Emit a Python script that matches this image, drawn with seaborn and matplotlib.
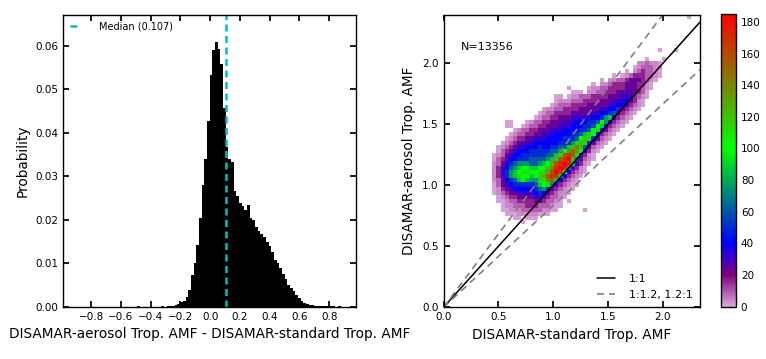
import numpy as np
import pandas as pd
import matplotlib
matplotlib.use("Agg")
import matplotlib.pyplot as plt
import seaborn as sns
from matplotlib.colors import LinearSegmentedColormap
from matplotlib.ticker import FormatStrFormatter

# ---------------- data: left histogram ----------------
hist_first_edge = -0.508
hist_bin_width = 0.018
hist_probs = [
    0.0, 0.0001, 0.0, 0.0, 0.0, 0.0, 0.0, 0.0, 0.0, 0.0,
    0.0001, 0.0, 0.0001, 0.0002, 0.0002, 0.0005, 0.0007, 0.0011, 0.0013, 0.0023,
    0.0039, 0.0073, 0.0100, 0.0142, 0.0203, 0.0279, 0.0340, 0.0428, 0.0533, 0.0590,
    0.0610, 0.0592, 0.0558, 0.0458, 0.0368, 0.0340, 0.0334, 0.0266, 0.0255, 0.0238,
    0.0232, 0.0222, 0.0233, 0.0205, 0.0199, 0.0184, 0.0175, 0.0168, 0.0160, 0.0150,
    0.0140, 0.0125, 0.0108, 0.0100, 0.0090, 0.0075, 0.0064, 0.0049, 0.0044, 0.0036,
    0.0028, 0.0020, 0.0012, 0.0009, 0.0006, 0.0004, 0.0003, 0.0002, 0.0002, 0.0002,
    0.0001, 0.0002, 0.0002, 0.0001, 0.0001, 0.0, 0.0001,
]
median_value = 0.107

# ---------------- data: right 2-D histogram ----------------
n_points = 13356
heat_x_range = (0.445, 2.33)
heat_y_range = (0.68, 2.40)
heat_nbins = 50
# level code -> count per cell
level_counts = {'.': 0, '1': 1, '2': 4, '3': 9, '4': 16, '5': 24, '6': 32, '7': 40,
                '8': 50, '9': 62, 'a': 75, 'b': 88, 'c': 100, 'd': 112, 'e': 125,
                'f': 140, 'g': 155, 'h': 170, 'i': 185}
# row index from top (0 = highest y) -> (first column, codes)
heat_rows = {
    0: (47, "1"),
    8: (40, "1...1"),
    10: (37, "1...1"),
    11: (35, "223221"),
    12: (34, "1233322"),
    13: (32, "1.2343321"),
    14: (29, "1.1234443321"),
    15: (26, "1.223345554321"),
    16: (24, "1.2234445554421"),
    17: (18, "1....1223344445554321"),
    18: (19, "111.223344455555431"),
    19: (15, "11.12233344445556664321"),
    20: (15, "1222333444455566675421"),
    21: (14, "12333444455555667754321"),
    22: (12, "122334444555556677854321"),
    23: (11, "123344445555566778954321"),
    24: (10, "12334455566666778ab64321"),
    25: (3, "11...123344555666777889ca64321"),
    26: (3, "11..123344555666777889cb64321"),
    27: (5, "1233445556667777889cd85321"),
    28: (4, "123344556667777889bdc74321"),
    29: (3, "123445566677778889ced85321"),
    30: (2, "12345566777777888aded85321"),
    31: (1, "12345667778778899befe95321"),
    32: (1, "134567778888899acfgfc7421"),
    33: (0, "123567788888899bdghgd8421"),
    34: (0, "1345778889999abdghie95321"),
    35: (0, "235689aaa99abceghihb6421"),
    36: (0, "24679abccbbccdfhiha6421"),
    37: (0, "2468abcddccddegihc74321"),
    38: (0, "2468abdccbcdeghhb74321"),
    39: (0, "235789bcbaacdfgb74321"),
    40: (0, "13567888889bcda643211"),
    41: (0, "124567777789a8543211"),
    42: (0, "1234556666787543221"),
    43: (1, "12344555566543321"),
    44: (1, "1123344445543321.1"),
    45: (2, "122333444333211"),
    46: (2, "11222333332211......1"),
    47: (3, "11122222111"),
    48: (5, "11.111"),
    49: (7, "1"),
}
cbar_ticks = [0, 20, 40, 60, 80, 100, 120, 140, 160, 180]
cmap_values = [0, 20, 40, 100, 185]
cmap_colors = ["#dba6db", "#800080", "#0000ff", "#00ff00", "#ff0000"]

# ---------------- build tables ----------------
hist_edges = hist_first_edge + hist_bin_width * np.arange(len(hist_probs) + 1)
hist_centers = 0.5 * (hist_edges[:-1] + hist_edges[1:])
df_hist = pd.DataFrame({"diff": hist_centers, "prob": hist_probs})

xedges = np.linspace(heat_x_range[0], heat_x_range[1], heat_nbins + 1)
yedges = np.linspace(heat_y_range[0], heat_y_range[1], heat_nbins + 1)
xc = 0.5 * (xedges[:-1] + xedges[1:])
yc = 0.5 * (yedges[:-1] + yedges[1:])
recs = []
for r, (c0, codes) in heat_rows.items():
    for j, ch in enumerate(codes):
        cnt = level_counts[ch]
        if cnt > 0:
            recs.append((xc[c0 + j], yc[heat_nbins - 1 - r], cnt))
df_heat = pd.DataFrame(recs, columns=["std", "aer", "count"])

vmax = cmap_values[-1]
cmap = LinearSegmentedColormap.from_list(
    "amf", [(v / vmax, c) for v, c in zip(cmap_values, cmap_colors)])

# ---------------- style ----------------
sns.set_theme(style="ticks")
plt.rcParams.update({
    "font.family": ["DejaVu Sans"],
    "xtick.direction": "in", "ytick.direction": "in",
    "xtick.top": True, "ytick.right": True,
    "axes.edgecolor": "black", "axes.linewidth": 1.0,
    "xtick.color": "black", "ytick.color": "black",
    "text.color": "black", "axes.labelcolor": "black",
    "xtick.major.size": 4, "ytick.major.size": 4,
    "xtick.labelsize": 7.5, "ytick.labelsize": 7.5,
    "axes.labelsize": 9.8,
})

fig = plt.figure(figsize=(7.66, 3.59), dpi=100)
ax1 = fig.add_axes([0.0822, 0.1457, 0.3825, 0.8134])
ax2 = fig.add_axes([0.579, 0.144, 0.3349, 0.815])
cax = fig.add_axes([0.9408, 0.1457, 0.02, 0.8153])

# ---------------- left panel ----------------
sns.histplot(data=df_hist, x="diff", weights="prob", bins=list(hist_edges),
             color="black", alpha=1, edgecolor="black", linewidth=0, ax=ax1)
ax1.axvline(median_value, color=(0.0, 0.75, 0.75), lw=1.8, ls=(0, (2.8, 1.8)),
            label=f"Median ({median_value})")
ax1.set_xlim(-0.99, 0.98)
ax1.set_ylim(0, 0.0672)
ax1.set_xticks([-0.8, -0.6, -0.4, -0.2, 0.0, 0.2, 0.4, 0.6, 0.8])
ax1.set_yticks([0.0, 0.01, 0.02, 0.03, 0.04, 0.05, 0.06])
ax1.yaxis.set_major_formatter(FormatStrFormatter("%.2f"))
ax1.set_xlabel("DISAMAR-aerosol Trop. AMF - DISAMAR-standard Trop. AMF")
ax1.set_ylabel("Probability")
ax1.legend(loc="upper left", frameon=False, fontsize=7, handlelength=1.0,
           handletextpad=2.0, borderaxespad=0.3)

# ---------------- right panel ----------------
sns.histplot(data=df_heat, x="std", y="aer", weights="count",
             bins=(list(xedges), list(yedges)), cmap=cmap, vmin=0, vmax=vmax,
             cbar=True, cbar_ax=cax, cbar_kws={"ticks": cbar_ticks}, ax=ax2)
ax2.axline((0, 0), slope=1.0, color="black", lw=1.1, label="1:1")
ax2.axline((0, 0), slope=1.2, color="gray", lw=1.2, ls=(0, (4.2, 3)),
           label="1:1.2, 1.2:1")
ax2.axline((0, 0), slope=1 / 1.2, color="gray", lw=1.2, ls=(0, (4.2, 3)))
ax2.set_xlim(0, 2.34)
ax2.set_ylim(0, 2.40)
ax2.set_xticks([0.0, 0.5, 1.0, 1.5, 2.0])
ax2.set_yticks([0.0, 0.5, 1.0, 1.5, 2.0])
ax2.xaxis.set_major_formatter(FormatStrFormatter("%.1f"))
ax2.yaxis.set_major_formatter(FormatStrFormatter("%.1f"))
ax2.set_xlabel("DISAMAR-standard Trop. AMF")
ax2.set_ylabel("DISAMAR-aerosol Trop. AMF")
ax2.text(0.068, 0.89, f"N={n_points}", transform=ax2.transAxes, fontsize=8,
         va="center", ha="left")
ax2.legend(loc="lower right", frameon=False, fontsize=8, handlelength=1.6,
           handletextpad=1.2, borderaxespad=0.3)

cax.tick_params(direction="in", labelsize=7.5, length=4, right=True, left=False)
for s in cax.spines.values():
    s.set_color("black")
cax.set_ylim(0, vmax)

fig.savefig("out.png", dpi=100)
